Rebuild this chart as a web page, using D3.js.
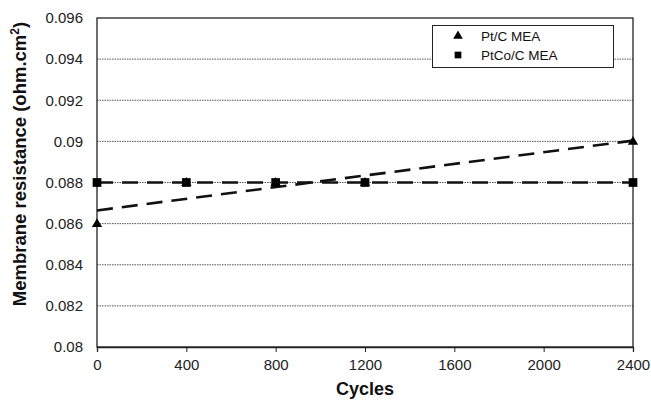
<!DOCTYPE html>
<html>
<head>
<meta charset="utf-8">
<script src="https://cdn.jsdelivr.net/npm/d3@7"></script>
<style>
  body { margin: 0; background: #fff; }
  svg { display: block; font-family: "Liberation Sans", Arial, sans-serif; }
</style>
</head>
<body>
<svg id="chart" width="651" height="401"></svg>
<script>
// Membrane resistance vs. potential-cycling count
const cycles = [0, 400, 800, 1200, 2400];
const ptcValues = [0.086, 0.088, 0.088, 0.088, 0.090];
const ptcoValues = [0.088, 0.088, 0.088, 0.088, 0.088];
const seriesNames = ["Pt/C MEA", "PtCo/C MEA"];
const xTicks = [0, 400, 800, 1200, 1600, 2000, 2400];
const yTicks = [0.08, 0.082, 0.084, 0.086, 0.088, 0.09, 0.092, 0.094, 0.096];

const svg = d3.select("#chart");
const m = { left: 97, right: 633, top: 18, bottom: 347 };
const FONT = "Liberation Sans, Arial, sans-serif";

const x = d3.scaleLinear().domain([0, 2400]).range([m.left, m.right]);
const y = d3.scaleLinear().domain([0.08, 0.096]).range([m.bottom, m.top]);

// dotted horizontal gridlines
svg.append("g").selectAll("line")
  .data(yTicks.filter(v => v > 0.08 && v < 0.096))
  .join("line")
  .attr("x1", m.left).attr("x2", m.right)
  .attr("y1", d => y(d)).attr("y2", d => y(d))
  .attr("stroke", "#555").attr("stroke-width", 1)
  .attr("stroke-dasharray", "1.5,1");

// plot frame
svg.append("rect")
  .attr("x", m.left).attr("y", m.top)
  .attr("width", m.right - m.left).attr("height", m.bottom - m.top)
  .attr("fill", "none").attr("stroke", "#222").attr("stroke-width", 1.3);

// x axis
const xAxis = svg.append("g")
  .attr("transform", `translate(0,${m.bottom})`)
  .call(d3.axisBottom(x).tickValues(xTicks).tickFormat(d3.format("d")).tickSize(5).tickPadding(7));
xAxis.select(".domain").attr("stroke", "#222").attr("stroke-width", 1.3);
xAxis.selectAll(".tick line").attr("stroke", "#222");
xAxis.selectAll("text").attr("font-size", 15).attr("fill", "#222").attr("font-family", FONT);

// y axis
const yAxis = svg.append("g")
  .attr("transform", `translate(${m.left},0)`)
  .call(d3.axisLeft(y).tickValues(yTicks).tickFormat(d => String(+d.toFixed(3))).tickSize(0).tickPadding(14));
yAxis.select(".domain").remove();
yAxis.selectAll("text").attr("font-size", 15).attr("fill", "#222").attr("font-family", FONT);

// axis titles
svg.append("text")
  .attr("x", (m.left + m.right) / 2).attr("y", 395)
  .attr("text-anchor", "middle").attr("font-size", 18).attr("font-weight", "bold").attr("fill", "#111")
  .text("Cycles");

const yt = svg.append("text")
  .attr("transform", "translate(26,164) rotate(-90)")
  .attr("text-anchor", "middle").attr("font-size", 18.5).attr("font-weight", "bold").attr("fill", "#111");
yt.append("tspan").text("Membrane resistance (ohm.cm");
yt.append("tspan").attr("font-size", 12).attr("dy", -7).text("2");
yt.append("tspan").attr("dy", 7).text(")");

// least-squares trend lines
function fit(xs, ys) {
  const mx = d3.mean(xs), my = d3.mean(ys);
  let sxy = 0, sxx = 0;
  xs.forEach((v, i) => { sxy += (v - mx) * (ys[i] - my); sxx += (v - mx) ** 2; });
  const b = sxy / sxx;
  return v => my + b * (v - mx);
}
const dom = x.domain();
[ptcValues, ptcoValues].forEach(vals => {
  const f = fit(cycles, vals);
  svg.append("line")
    .attr("x1", x(dom[0])).attr("y1", y(f(dom[0])))
    .attr("x2", x(dom[1])).attr("y2", y(f(dom[1])))
    .attr("stroke", "#111").attr("stroke-width", 2.6)
    .attr("stroke-dasharray", "16,9");
});

// markers: triangles first, squares on top
const tri = d3.symbol().type(d3.symbolTriangle).size(46);
const sq = d3.symbol().type(d3.symbolSquare).size(76);
svg.append("g").selectAll("path")
  .data(cycles.map((c, i) => [c, ptcValues[i]]))
  .join("path")
  .attr("d", tri)
  .attr("transform", d => `translate(${x(d[0])},${y(d[1]) + 0.5})`)
  .attr("fill", "#000");
svg.append("g").selectAll("path")
  .data(cycles.map((c, i) => [c, ptcoValues[i]]))
  .join("path")
  .attr("d", sq)
  .attr("transform", d => `translate(${x(d[0])},${y(d[1])})`)
  .attr("fill", "#000");

// legend
const lg = svg.append("g");
lg.append("rect").attr("x", 432.5).attr("y", 25.5).attr("width", 181).attr("height", 42)
  .attr("fill", "#fff").attr("stroke", "#222").attr("stroke-width", 1);
lg.append("path").attr("d", d3.symbol().type(d3.symbolTriangle).size(40))
  .attr("transform", "translate(458,36)").attr("fill", "#000");
lg.append("path").attr("d", d3.symbol().type(d3.symbolSquare).size(45))
  .attr("transform", "translate(458,55)").attr("fill", "#000");
lg.selectAll("text").data(seriesNames).join("text")
  .attr("x", 481).attr("y", (d, i) => 41 + i * 19)
  .attr("font-size", 13.5).attr("fill", "#111").attr("font-family", FONT).text(d => d);
</script>
</body>
</html>
